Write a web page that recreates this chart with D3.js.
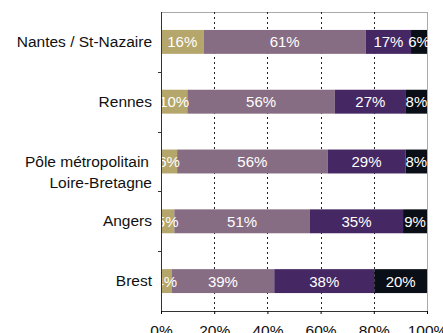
<!DOCTYPE html>
<html><head><meta charset="utf-8">
<script src="https://cdn.jsdelivr.net/npm/d3@7"></script>
<style>body{margin:0;background:#fff}svg{display:block}text{font-family:"Liberation Sans",Arial,sans-serif}</style>
</head><body><svg id="c" width="443" height="333"></svg>
<script>
const categories = ["Nantes / St-Nazaire", "Rennes", "Pôle métropolitain\nLoire-Bretagne", "Angers", "Brest"];
const seriesA = [16, 10, 6, 5, 4];
const seriesB = [61, 56, 56, 51, 39];
const seriesC = [17, 27, 29, 35, 38];
const seriesD = [6, 8, 8, 9, 20];
const ticks = [0, 20, 40, 60, 80, 100];
const colors = ["#b5a66c", "#876d83", "#452763", "#0a0e16"];

const svg = d3.select("#c");
const m = {l: 161, r: 427, t: 12, b: 311};
const x = d3.scaleLinear().domain([0, 100]).range([m.l, m.r]);
const y = d3.scaleBand().domain(categories).range([m.t, m.b]).paddingInner(0.6).paddingOuter(0.3);
const yb = d3.scaleBand().domain(categories).range([m.t, m.b]);

const rows = categories.map((c, i) => {
  const v = [seriesA[i], seriesB[i], seriesC[i], seriesD[i]];
  const s = d3.sum(v);
  let acc = 0;
  return v.map((d, k) => { const seg = {cat: c, v: d, x0: acc / s * 100, x1: (acc + d) / s * 100, k}; acc += d; return seg; });
});

// frame
svg.append("rect").attr("x", m.l + 0.5).attr("y", m.t + 0.5).attr("width", m.r - m.l).attr("height", m.b - m.t)
  .attr("fill", "none").attr("stroke", "#aaa").attr("stroke-width", 1);
// grid
svg.selectAll(".g").data(ticks.slice(1, -1)).join("line")
  .attr("x1", d => Math.round(x(d)) + 0.5).attr("x2", d => Math.round(x(d)) + 0.5)
  .attr("y1", m.t).attr("y2", m.b).attr("stroke", "#222").attr("stroke-dasharray", "2,3");

const segs = rows.flat();
svg.selectAll(".bar").data(segs).join("rect")
  .attr("x", d => x(d.x0)).attr("width", d => x(d.x1) - x(d.x0))
  .attr("y", d => y(d.cat)).attr("height", y.bandwidth())
  .attr("fill", d => colors[d.k]);
svg.selectAll(".lab").data(segs).join("text")
  .attr("x", d => (x(d.x0) + x(d.x1)) / 2).attr("y", d => y(d.cat) + y.bandwidth() / 2 + 5.5)
  .attr("text-anchor", "middle").attr("fill", "#fff").attr("font-size", 15)
  .text(d => d.v + "%");

// left axis
const la = svg.append("g");
la.append("line").attr("x1", m.l + 0.5).attr("x2", m.l + 0.5).attr("y1", m.t).attr("y2", m.b).attr("stroke", "#333");
la.selectAll(".t").data(categories.slice(1)).join("line")
  .attr("x1", m.l - 3).attr("x2", m.l).attr("y1", d => Math.round(yb(d)) + 0.5).attr("y2", d => Math.round(yb(d)) + 0.5).attr("stroke", "#333");
la.selectAll(".cl").data(categories).join("text")
  .attr("text-anchor", "end").attr("font-size", 15.5).attr("fill", "#111")
  .each(function(d) {
    const lines = d.split("\n");
    const cy = y(d) + y.bandwidth() / 2;
    const t = d3.select(this);
    lines.forEach((ln, i) => {
      t.append("tspan").attr("x", m.l - 9 - (lines.length > 1 && i === 0 ? 3 : 0))
        .attr("y", cy + 5 + i * 21).text(ln);
    });
  });

// bottom axis
const xa = svg.append("g").attr("transform", `translate(0,${m.b})`)
  .call(d3.axisBottom(x).tickValues(ticks).tickFormat(d => d + "%").tickSize(3).tickPadding(11));
xa.select(".domain").attr("stroke", "#333");
xa.selectAll("text").attr("font-size", 15.5).attr("fill", "#111");
</script></body></html>
